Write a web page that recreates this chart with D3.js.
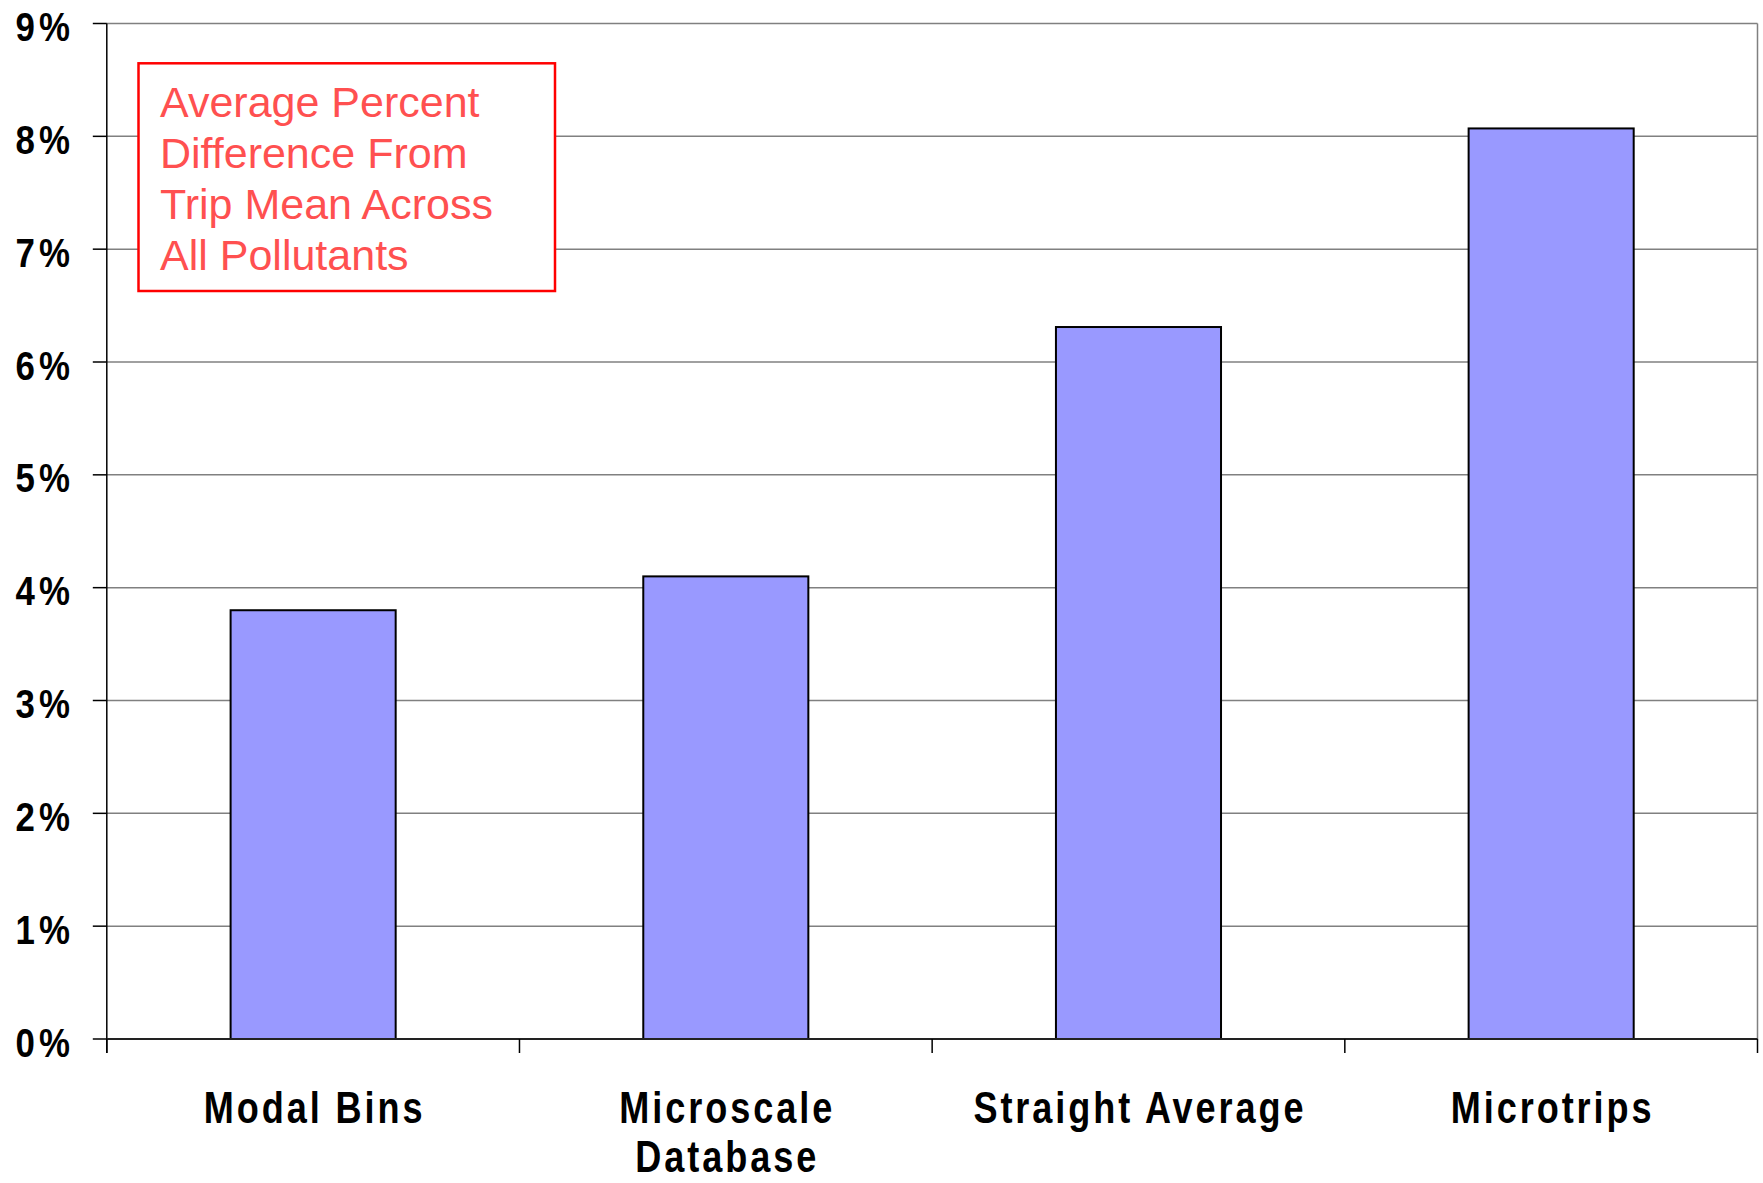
<!DOCTYPE html>
<html>
<head>
<meta charset="utf-8">
<script src="https://cdn.jsdelivr.net/npm/d3@7"></script>
<style>
  html, body { margin: 0; padding: 0; background: #fff; }
  svg { display: block; }
</style>
</head>
<body>
<svg id="chart" width="1763" height="1183"></svg>
<script>
// Category names (multi-line labels) and bar values in percent
const categories = ["Modal Bins", "Microscale Database", "Straight Average", "Microtrips"];
const categoryLines = [["Modal Bins"], ["Microscale", "Database"], ["Straight Average"], ["Microtrips"]];
const values = [3.80, 4.10, 6.31, 8.07];
const yTicks = [0, 1, 2, 3, 4, 5, 6, 7, 8, 9];
const yTickLabels = ["0%", "1%", "2%", "3%", "4%", "5%", "6%", "7%", "8%", "9%"];
const noteLines = ["Average Percent", "Difference From", "Trip Mean Across", "All Pollutants"];

const svg = d3.select("#chart");
const font = "'Liberation Sans', Arial, Helvetica, sans-serif";

const plot = { left: 106.8, right: 1757.5, top: 23.5, bottom: 1039 };

const x = d3.scaleBand()
  .domain(categories)
  .range([plot.left, plot.right])
  .paddingInner(0.6)
  .paddingOuter(0.3);

const xEdges = d3.scaleLinear().domain([0, categories.length]).range([plot.left, plot.right]);

const y = d3.scaleLinear().domain([0, 9]).range([plot.bottom, plot.top]);

// Horizontal gridlines
svg.append("g")
  .selectAll("line")
  .data(yTicks.filter(d => d > 0))
  .join("line")
  .attr("x1", plot.left).attr("x2", plot.right)
  .attr("y1", d => y(d)).attr("y2", d => y(d))
  .attr("stroke", "#808080")
  .attr("stroke-width", 1.5);

// Right plot border
svg.append("line")
  .attr("x1", plot.right).attr("x2", plot.right)
  .attr("y1", plot.top).attr("y2", plot.bottom)
  .attr("stroke", "#808080")
  .attr("stroke-width", 1.5);

// Bars
svg.append("g")
  .selectAll("rect")
  .data(values)
  .join("rect")
  .attr("x", (d, i) => x(categories[i]))
  .attr("width", x.bandwidth())
  .attr("y", d => y(d))
  .attr("height", d => y(0) - y(d))
  .attr("fill", "#9999ff")
  .attr("stroke", "#000")
  .attr("stroke-width", 2);

// Value axis line and ticks
svg.append("line")
  .attr("x1", plot.left).attr("x2", plot.left)
  .attr("y1", plot.top).attr("y2", plot.bottom + 14)
  .attr("stroke", "#000")
  .attr("stroke-width", 1.5);

svg.append("g")
  .selectAll("line")
  .data(yTicks)
  .join("line")
  .attr("x1", plot.left - 14).attr("x2", plot.left)
  .attr("y1", d => y(d)).attr("y2", d => y(d))
  .attr("stroke", "#000")
  .attr("stroke-width", 1.5);

// Value labels: condensed bold with slight tracking
const yk = 0.85, yls = 5;
svg.append("g")
  .selectAll("text")
  .data(yTicks)
  .join("text")
  .attr("transform", d => `translate(${70 + yls * yk},${y(d) + 17.5}) scale(${yk},1)`)
  .attr("text-anchor", "end")
  .attr("font-family", font)
  .attr("font-weight", "bold")
  .attr("font-size", 41)
  .attr("letter-spacing", yls)
  .attr("fill", "#000")
  .text((d, i) => yTickLabels[i]);

// Category axis line and ticks
svg.append("line")
  .attr("x1", plot.left).attr("x2", plot.right)
  .attr("y1", plot.bottom).attr("y2", plot.bottom)
  .attr("stroke", "#222")
  .attr("stroke-width", 2);

svg.append("g")
  .selectAll("line")
  .data(d3.range(categories.length + 1))
  .join("line")
  .attr("x1", d => xEdges(d)).attr("x2", d => xEdges(d))
  .attr("y1", plot.bottom).attr("y2", plot.bottom + 14)
  .attr("stroke", "#000")
  .attr("stroke-width", 1.5);

// Category labels (condensed, widely tracked)
const ck = 0.82, cls = 3.6;
const catG = svg.append("g");
categories.forEach((c, i) => {
  const cx = x(c) + x.bandwidth() / 2 + cls * ck / 2;
  categoryLines[i].forEach((line, j) => {
    catG.append("text")
      .attr("transform", `translate(${cx},${1123.3 + j * 49}) scale(${ck},1)`)
      .attr("text-anchor", "middle")
      .attr("font-family", font)
      .attr("font-weight", "bold")
      .attr("font-size", 44)
      .attr("letter-spacing", cls)
      .attr("fill", "#000")
      .text(line);
  });
});

// Annotation box
svg.append("rect")
  .attr("x", 138.5).attr("y", 63.3)
  .attr("width", 416.5).attr("height", 227.7)
  .attr("fill", "#fff")
  .attr("stroke", "#ff0000")
  .attr("stroke-width", 2.5);

svg.append("g")
  .selectAll("text")
  .data(noteLines)
  .join("text")
  .attr("x", 160)
  .attr("y", (d, i) => 116.7 + i * 51)
  .attr("font-family", font)
  .attr("font-size", 43)
  .attr("fill", "#ff5050")
  .text(d => d);
</script>
</body>
</html>
